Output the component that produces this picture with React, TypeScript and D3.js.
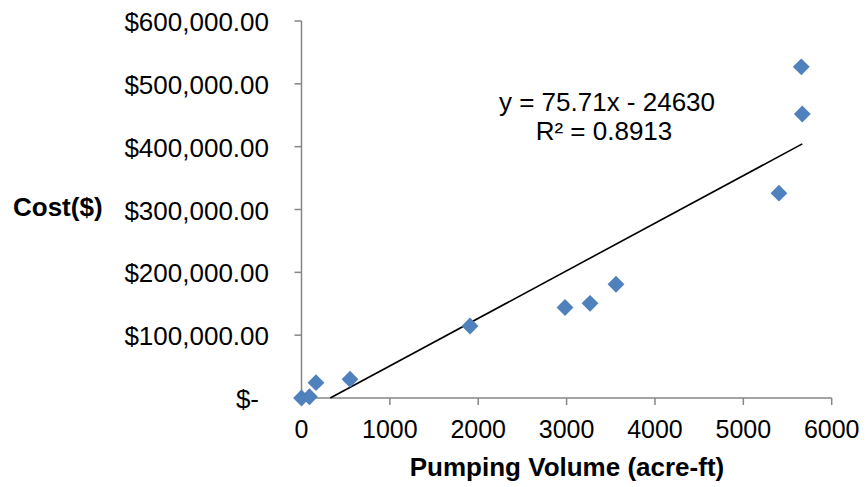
import React from "react";
import * as d3 from "d3";

const volumes = [0, 90, 164, 549, 1907, 2982, 3265, 3559, 5403, 5667, 5656];
const costs = [0, 2000, 24400, 29800, 114600, 144000, 150700, 181000, 326000, 452000, 527000];
const xTicks = [0, 1000, 2000, 3000, 4000, 5000, 6000];
const yTicks = [0, 100000, 200000, 300000, 400000, 500000, 600000];
const slope = 75.71;
const intercept = -24630;
const eqText = "y = 75.71x - 24630";
const r2Text = "R² = 0.8913";

const W = 866;
const H = 487;
const FONT = "'Liberation Sans', Arial, sans-serif";
const AXIS = "#868686";
const MARK = "#4F81BD";

export default function App() {
  const x = d3.scaleLinear().domain([0, 6000]).range([301.5, 831.7]);
  const y = d3.scaleLinear().domain([0, 600000]).range([398, 21]);

  const fmt = (v: number) => (v === 0 ? "$-" : "$" + d3.format(",.2f")(v));

  const xMax = d3.max(volumes) as number;
  const xStart = Math.max(0, -intercept / slope);
  const line = d3
    .line<number>()
    .x((d) => x(d))
    .y((d) => y(slope * d + intercept));

  const diamond = d3.symbol().type(d3.symbolDiamond2).size(180)();

  return (
    <div style={{ position: "absolute", left: 0, top: 0 }}>
      <svg width={W} height={H} style={{ display: "block", background: "#fff" }} fontFamily={FONT}>
        {/* y axis */}
        <line x1={x(0)} x2={x(0)} y1={y(600000)} y2={y(0)} stroke={AXIS} strokeWidth={1.5} />
        {yTicks.map((t) => (
          <g key={"y" + t}>
            <line x1={x(0) - 7} x2={x(0)} y1={y(t)} y2={y(t)} stroke={AXIS} strokeWidth={1.5} />
            <text
              x={t === 0 ? 259 : 269}
              y={y(t) + 10}
              textAnchor="end"
              fontSize={26}
              fill="#000"
            >
              {fmt(t)}
            </text>
          </g>
        ))}
        {/* x axis */}
        <line x1={x(0)} x2={x(6000)} y1={y(0)} y2={y(0)} stroke={AXIS} strokeWidth={1.5} />
        {xTicks.map((t) => (
          <g key={"x" + t}>
            <line x1={x(t)} x2={x(t)} y1={y(0)} y2={y(0) + 7} stroke={AXIS} strokeWidth={1.5} />
            <text x={x(t)} y={438} textAnchor="middle" fontSize={25} fill="#000">
              {t}
            </text>
          </g>
        ))}
        {/* trendline */}
        <path d={line([xStart, xMax]) || ""} stroke="#000" strokeWidth={1.6} fill="none" />
        {/* points */}
        {volumes.map((v, i) => (
          <path key={"p" + i} d={diamond || ""} transform={`translate(${x(v)},${y(costs[i])})`} fill={MARK} />
        ))}
        {/* equation */}
        <text x={607} y={111} textAnchor="middle" fontSize={26} fill="#000">
          {eqText}
        </text>
        <text x={604} y={140} textAnchor="middle" fontSize={26} fill="#000">
          {r2Text}
        </text>
        {/* titles */}
        <text x={13} y={216} fontSize={26} fontWeight="bold" fill="#000">
          Cost($)
        </text>
        <text x={567} y={476} textAnchor="middle" fontSize={26} fontWeight="bold" fill="#000">
          Pumping Volume (acre-ft)
        </text>
      </svg>
    </div>
  );
}
